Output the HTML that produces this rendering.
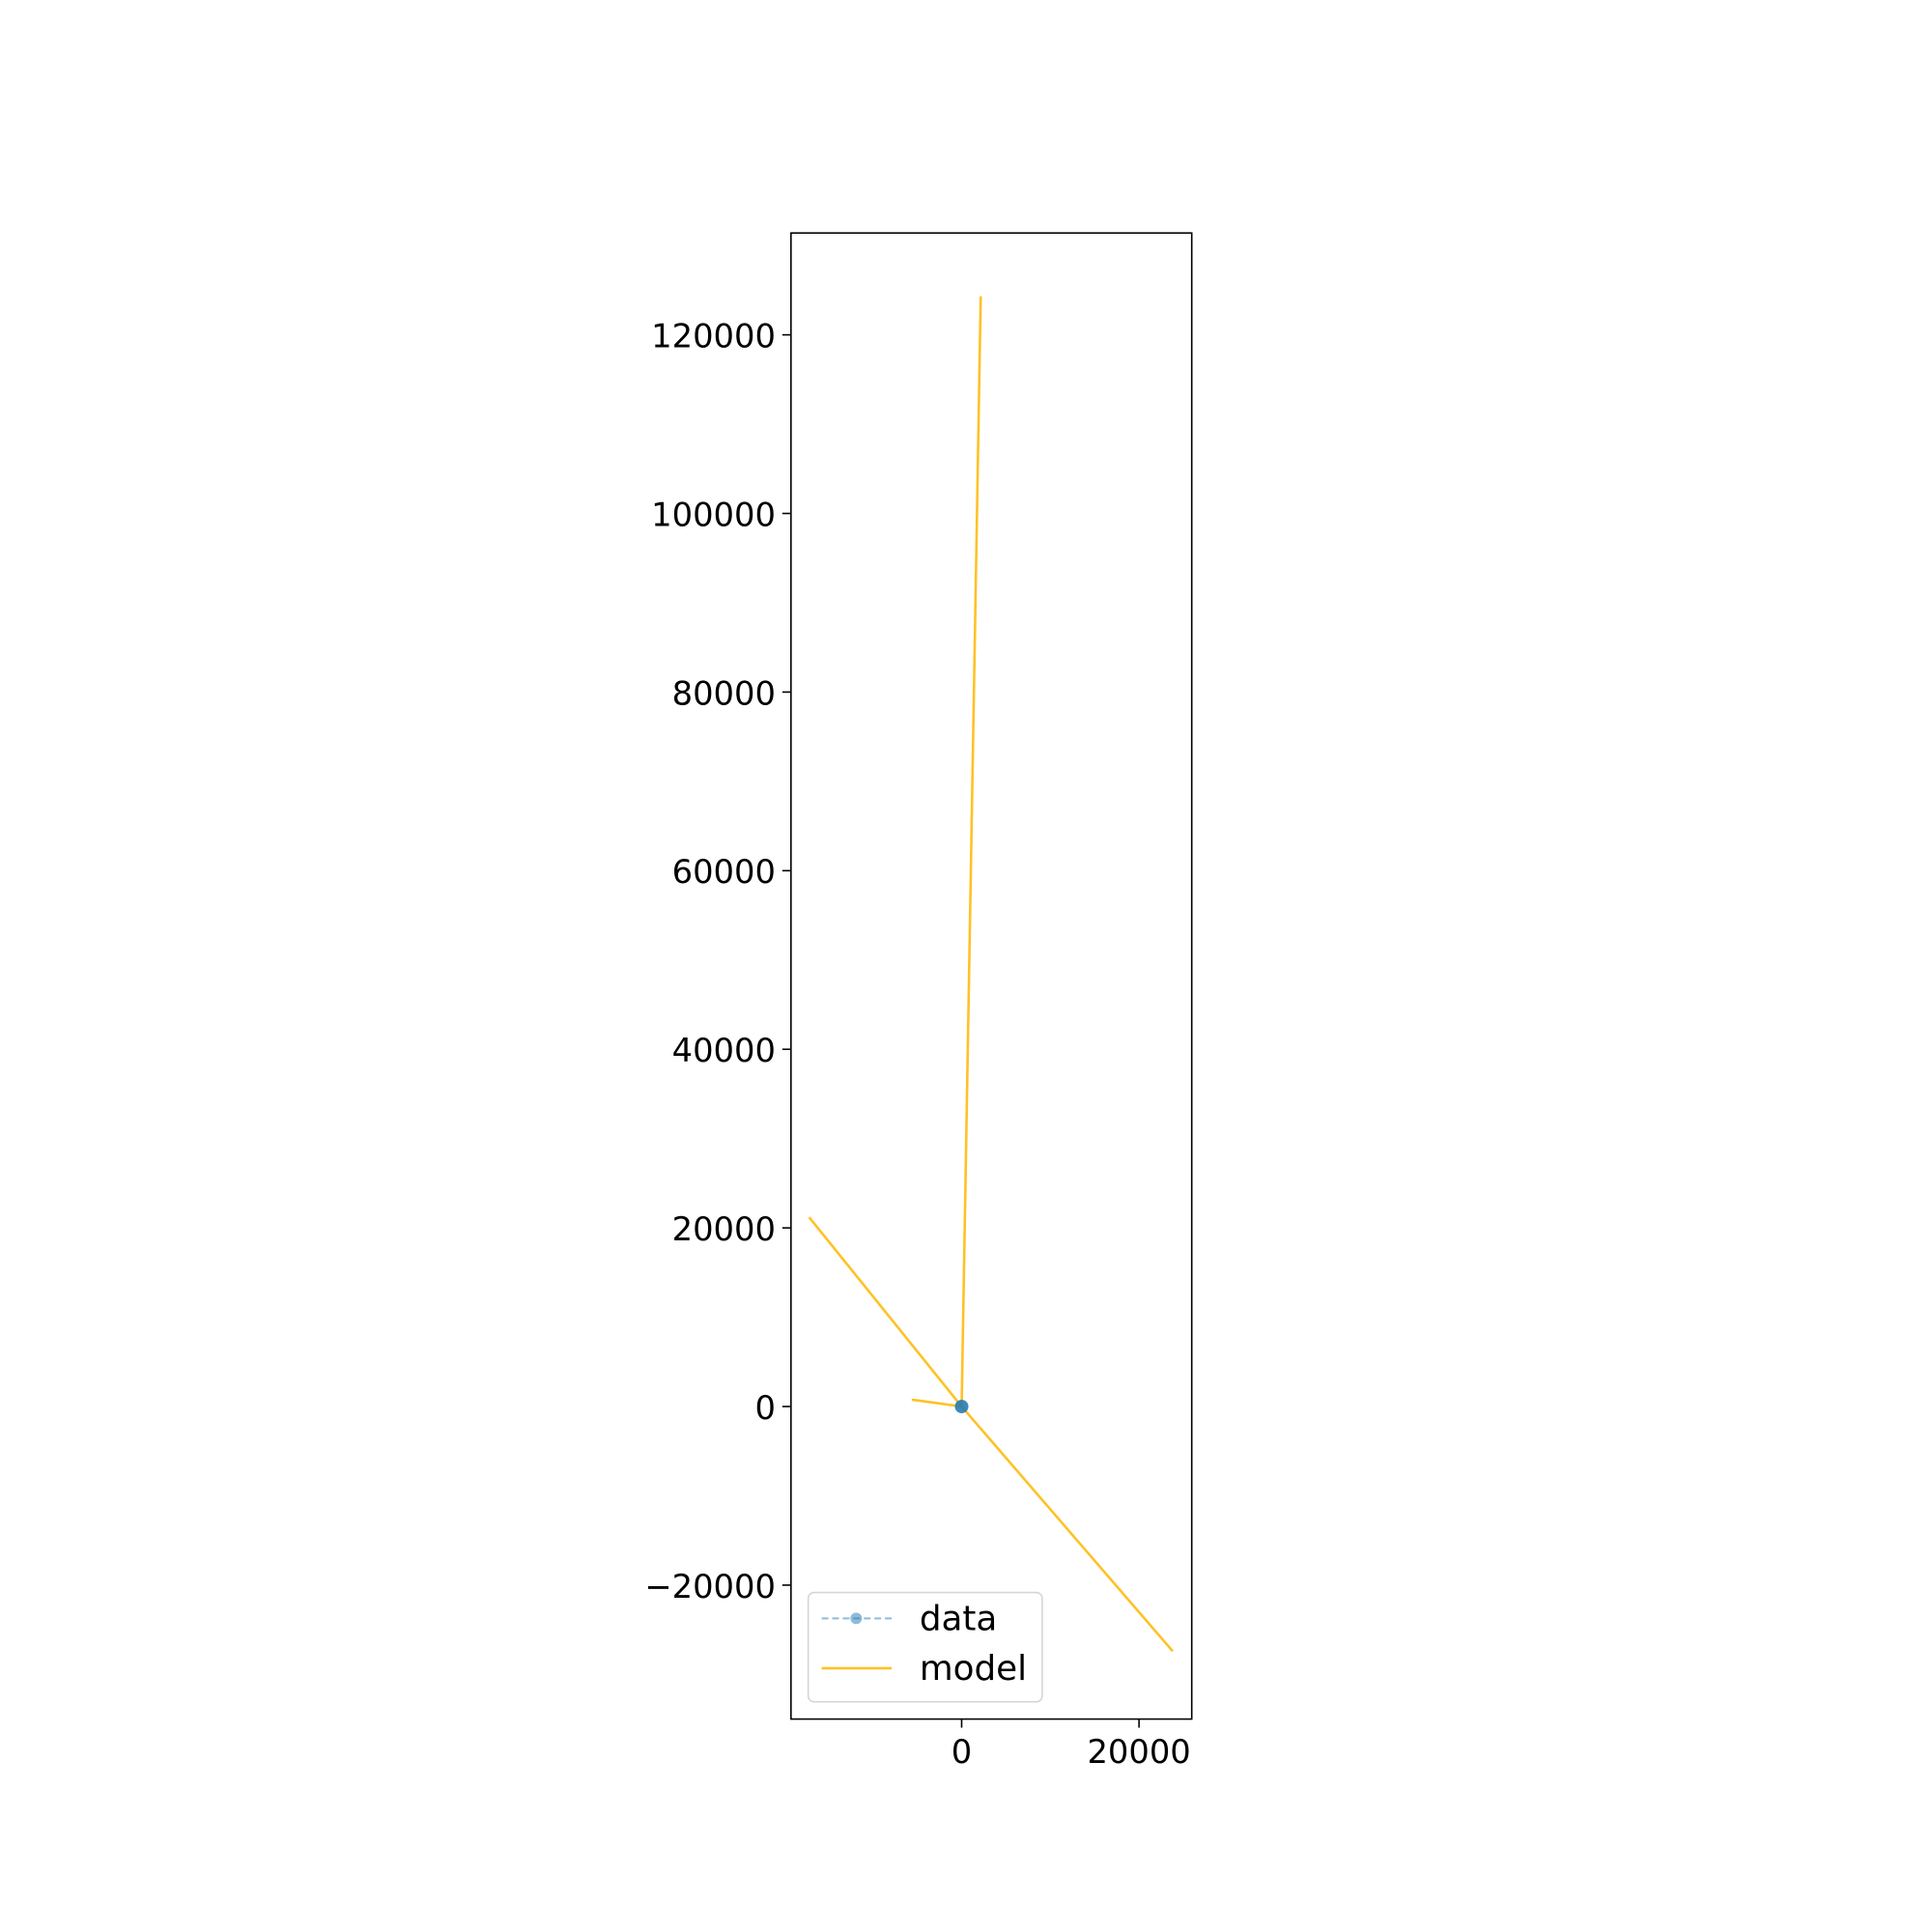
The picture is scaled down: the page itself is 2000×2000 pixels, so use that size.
<!DOCTYPE html>
<html><head><meta charset="utf-8"><style>body{margin:0;background:#fff}svg{display:block}</style></head>
<body>
<svg id="chart" width="2000" height="2000" xmlns="http://www.w3.org/2000/svg" font-family="'DejaVu Sans','Liberation Sans',sans-serif"><g id="root" transform="translate(2,2) scale(0.9925)"></g></svg>
<script>
const xTicks=[0,20000];
const yTicks=[-20000,0,20000,40000,60000,80000,100000,120000];
const modelX=[-17200,0,2150,0,-5500,0,23800];
const modelY=[21200,0,124200,0,750,0,-27400];
const dataX=[0,0,0];
const dataY=[0,0,0];
const L=823,R=1241,T=241,B=1791;
const sc=185/20000, scY=sc*1.007;
const X=v=>1001+v*sc, Y=v=>1465-v*scY;
const svg=document.getElementById('root');
const NS='http://www.w3.org/2000/svg';
function mk(t,a,p){const e=document.createElementNS(NS,t);for(const k in a)e.setAttribute(k,a[k]);(p||svg).appendChild(e);return e;}
let pts=modelX.map((x,i)=>X(x)+','+Y(modelY[i])).join(' ');
const ml=mk('polyline',{points:pts,fill:'none',stroke:'#ffc125',"stroke-width":2.6,"stroke-linejoin":"round"});


const dl=mk('polyline',{points:dataX.map((x,i)=>X(x)+','+Y(dataY[i])).join(' '),fill:'none',stroke:'#1f77b4',"stroke-opacity":0.5,"stroke-dasharray":"7,4","stroke-width":2});


dataX.forEach((x,i)=>{const c=mk('circle',{cx:X(x),cy:Y(dataY[i]),r:7,fill:'#1f77b4',"fill-opacity":0.5});

});
const fr=mk('rect',{x:L,y:T,width:R-L,height:B-T,fill:'none',stroke:'#000',"stroke-width":1.6});


yTicks.forEach(v=>{const y=Y(v);mk('line',{x1:L-9,x2:L,y1:y,y2:y,stroke:'#000',"stroke-width":1.6});
const t=mk('text',{x:L-16,y:y+13,"text-anchor":"end","font-size":34});t.textContent=v<0?'\u2212'+Math.abs(v):String(v);

});
xTicks.forEach(v=>{const x=X(v);mk('line',{x1:x,x2:x,y1:B,y2:B+9,stroke:'#000',"stroke-width":1.6});
const t=mk('text',{x:x,y:B+46,"text-anchor":"middle","font-size":34});t.textContent=String(v);

});
const lg=mk('g',{});


mk('rect',{x:841,y:1659,width:244,height:114,rx:6,fill:'#fff',stroke:'#d6d6d6',"stroke-width":1.6},lg);
mk('line',{x1:855,x2:928,y1:1686,y2:1686,stroke:'#1f77b4',"stroke-opacity":0.5,"stroke-dasharray":"7,4","stroke-width":2},lg);
mk('circle',{cx:891,cy:1686,r:6,fill:'#1f77b4',"fill-opacity":0.5},lg);
mk('line',{x1:855,x2:928,y1:1738,y2:1738,stroke:'#ffc125',"stroke-width":2.6},lg);
const t1=mk('text',{x:957,y:1698,"font-size":36},lg);t1.textContent='data';


const t2=mk('text',{x:957,y:1750,"font-size":36},lg);t2.textContent='model';


</script>
</body></html>
